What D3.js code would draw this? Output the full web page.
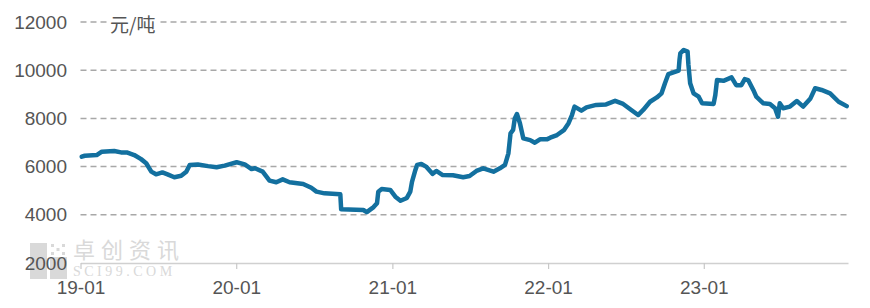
<!DOCTYPE html>
<html>
<head>
<meta charset="utf-8">
<script src="https://cdn.jsdelivr.net/npm/d3@7"></script>
<style>
  body { margin: 0; background: #fff; }
  text { font-family: "Liberation Sans", Arial, sans-serif; }
</style>
</head>
<body>
<div id="container"></div>
<script>
/* CONSTANTS AND GLOBALS */
const width = 870,
  height = 308,
  margin = { top: 22, bottom: 45, left: 80.5, right: 22 };

/* DATA */
const dates = [
  "2019-01-04", "2019-01-11", "2019-02-08", "2019-02-20", "2019-03-21", "2019-04-06",
  "2019-04-21", "2019-05-07", "2019-05-23", "2019-06-04", "2019-06-16", "2019-06-27",
  "2019-07-12", "2019-07-24", "2019-08-09", "2019-08-25", "2019-09-06", "2019-09-14",
  "2019-10-03", "2019-10-27", "2019-11-16", "2019-12-05", "2020-01-02", "2020-01-21",
  "2020-02-06", "2020-02-14", "2020-03-03", "2020-03-19", "2020-04-04", "2020-04-19",
  "2020-05-05", "2020-06-06", "2020-06-25", "2020-07-07", "2020-07-26", "2020-09-01",
  "2020-09-03", "2020-10-25", "2020-11-02", "2020-11-18", "2020-11-26", "2020-11-29",
  "2020-12-07", "2020-12-27", "2021-01-08", "2021-01-20", "2021-02-04", "2021-02-12",
  "2021-02-16", "2021-02-24", "2021-02-28", "2021-03-10", "2021-03-21", "2021-04-05",
  "2021-04-14", "2021-04-29", "2021-05-23", "2021-06-16", "2021-07-01", "2021-07-17",
  "2021-08-02", "2021-08-26", "2021-09-10", "2021-09-22", "2021-09-30", "2021-10-05",
  "2021-10-11", "2021-10-15", "2021-10-20", "2021-10-27", "2021-11-04", "2021-11-20",
  "2021-12-01", "2021-12-13", "2021-12-29", "2022-01-06", "2022-01-22", "2022-02-07",
  "2022-02-18", "2022-02-26", "2022-03-04", "2022-03-20", "2022-04-01", "2022-04-24",
  "2022-05-17", "2022-06-07", "2022-06-26", "2022-07-15", "2022-07-31", "2022-08-12",
  "2022-08-28", "2022-09-13", "2022-09-24", "2022-10-02", "2022-10-10", "2022-11-03",
  "2022-11-05", "2022-11-07", "2022-11-15", "2022-11-24", "2022-11-26", "2022-11-30",
  "2022-12-08", "2022-12-20", "2022-12-28", "2023-01-24", "2023-01-28", "2023-02-01",
  "2023-02-16", "2023-03-07", "2023-03-18", "2023-03-30", "2023-04-07", "2023-04-15",
  "2023-04-27", "2023-05-04", "2023-05-20", "2023-06-05", "2023-06-17", "2023-06-24",
  "2023-06-28", "2023-07-06", "2023-07-22", "2023-08-07", "2023-08-22", "2023-09-08",
  "2023-09-19", "2023-10-04", "2023-10-24", "2023-11-13", "2023-12-02"
];
const prices = [
  6410, 6450, 6480, 6620, 6650, 6590,
  6580, 6480, 6310, 6140, 5790, 5680,
  5760, 5680, 5560, 5620, 5790, 6070,
  6090, 6020, 5970, 6040, 6180, 6090,
  5900, 5930, 5790, 5420, 5350, 5470,
  5350, 5280, 5120, 4960, 4890, 4850,
  4230, 4200, 4110, 4320, 4480, 4960,
  5070, 5030, 4750, 4580, 4700, 4960,
  5370, 5860, 6070, 6110, 6000, 5700,
  5820, 5650, 5640, 5560, 5610, 5820,
  5930, 5790, 5930, 6070, 6550, 7380,
  7520, 8000, 8180, 7800, 7170, 7100,
  6990, 7130, 7130, 7200, 7310, 7510,
  7800, 8140, 8490, 8320, 8460, 8560,
  8580, 8730, 8600, 8350, 8140, 8350,
  8690, 8870, 9040, 9460, 9840, 9980,
  10420, 10700, 10840, 10770, 10220, 9460,
  9040, 8900, 8630, 8600, 8970, 9590,
  9560, 9700, 9380, 9380, 9630, 9590,
  9180, 8900, 8630, 8600, 8420, 8070,
  8630, 8420, 8490, 8720, 8490, 8830,
  9250, 9180, 9040, 8690, 8510
];
const yTicks = [2000, 4000, 6000, 8000, 10000, 12000];
const xTicks = ["2019-01-01", "2020-01-01", "2021-01-01", "2022-01-01", "2023-01-01"];
const unitLabel = "元/吨";

const parse = d3.timeParse("%Y-%m-%d");
const data = dates.map((d, i) => ({ date: parse(d), value: prices[i] }));

/* SCALES */
const xScale = d3.scaleTime()
  .domain([parse("2019-01-01"), parse("2023-12-05")])
  .range([margin.left, width - margin.right]);

const yScale = d3.scaleLinear()
  .domain([2000, 12000])
  .range([height - margin.bottom, margin.top]);

/* HTML ELEMENTS */
const svg = d3.select("#container")
  .append("svg")
  .attr("width", width)
  .attr("height", height);

// watermark
const wm = svg.append("g").attr("fill", "#d9d9d9");
wm.append("rect").attr("x", 30).attr("y", 243).attr("width", 17).attr("height", 36);
wm.append("rect").attr("x", 50).attr("y", 257).attr("width", 17).attr("height", 22);
for (let i = 0; i < 3; i++) {
  for (let j = 0; j < 3; j++) {
    if ((i + j) % 2 === 0) {
      wm.append("rect").attr("x", 51 + i * 5.5).attr("y", 244 + j * 4).attr("width", 3).attr("height", 3);
    }
  }
}
wm.append("text").attr("x", 73).attr("y", 258)
  .style("font-family", "'Noto Sans CJK SC', sans-serif")
  .style("font-size", "22px").style("letter-spacing", "6px")
  .text("卓创资讯");
wm.append("text").attr("x", 73).attr("y", 276)
  .style("font-family", "'Liberation Serif', serif")
  .style("font-size", "14px").style("letter-spacing", "3.5px")
  .text("SCI99.COM");

// grid lines
svg.append("g")
  .selectAll("line")
  .data(yTicks.slice(1))
  .join("line")
  .attr("x1", margin.left)
  .attr("x2", width - margin.right)
  .attr("y1", d => yScale(d))
  .attr("y2", d => yScale(d))
  .attr("stroke", "#a8a8a8")
  .attr("stroke-width", 1.5)
  .attr("stroke-dasharray", "6,4");

// unit label over the top grid line
const unitBg = svg.append("rect").attr("fill", "#fff");
const unit = svg.append("text")
  .attr("x", 110)
  .attr("y", yScale(12000) + 1)
  .attr("dominant-baseline", "central")
  .attr("fill", "#555")
  .style("font-family", "'Noto Sans CJK SC', sans-serif")
  .style("font-size", "19px")
  .text(unitLabel);
const bb = unit.node().getBBox();
unitBg.attr("x", bb.x - 3).attr("y", bb.y + 3)
  .attr("width", bb.width + 6).attr("height", bb.height - 6);

// y axis
const yAxis = d3.axisLeft(yScale).tickValues(yTicks).tickSize(0).tickPadding(0).tickFormat(d3.format("d"));
svg.append("g")
  .attr("transform", `translate(67,0)`)
  .call(yAxis)
  .call(g => g.select(".domain").remove())
  .call(g => g.selectAll("text")
    .attr("fill", "#555")
    .style("font-size", "19px")
    .style("font-family", "'Liberation Sans', Arial, sans-serif"));

// x axis
const xAxis = d3.axisBottom(xScale)
  .tickValues(xTicks.map(parse))
  .tickSize(6)
  .tickSizeOuter(0)
  .tickPadding(12)
  .tickFormat(d3.timeFormat("%y-%m"));
svg.append("g")
  .attr("transform", `translate(0,${height - margin.bottom})`)
  .call(xAxis)
  .call(g => g.select(".domain").attr("stroke", "#d0d0d0").attr("stroke-width", 1.5))
  .call(g => g.selectAll(".tick line").attr("stroke", "#c8c8c8").attr("stroke-width", 1.2))
  .call(g => g.selectAll("text")
    .attr("fill", "#555")
    .style("font-size", "19px")
    .style("font-family", "'Liberation Sans', Arial, sans-serif"));

// price line
const line = d3.line()
  .x(d => xScale(d.date))
  .y(d => yScale(d.value));

svg.append("path")
  .datum(data)
  .attr("fill", "none")
  .attr("stroke", "#13709f")
  .attr("stroke-width", 4.5)
  .attr("stroke-linejoin", "round")
  .attr("stroke-linecap", "round")
  .attr("d", line);
</script>
</body>
</html>
